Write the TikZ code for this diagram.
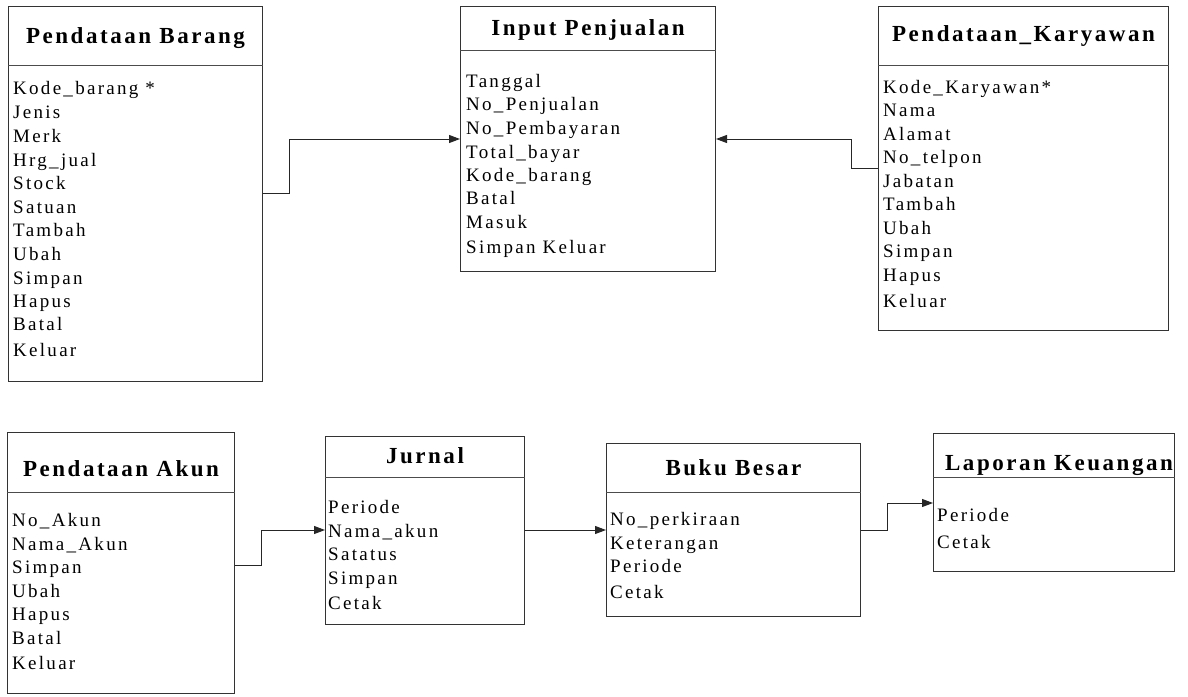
\documentclass[tikz,border=0pt]{standalone}
\usepackage{fontspec}
\setmainfont{Liberation Serif}
\newfontfamily\itemfont[LetterSpace=12]{Liberation Serif}
\newfontfamily\titlefont[LetterSpace=11]{Liberation Serif}
\usetikzlibrary{arrows.meta}
\begin{document}
\begin{tikzpicture}[x=1pt,y=-1pt,
  entity/.style={draw=black!80, line width=1pt, anchor=north west, inner sep=0pt},
  divider/.style={draw=black!70, line width=1pt},
  title/.style={inner sep=0pt, font=\titlefont\fontsize{23pt}{25pt}\selectfont\bfseries},
  item/.style={anchor=west, inner sep=0pt, text height=13.5pt, text depth=4pt, font=\itemfont\fontsize{19pt}{21pt}\selectfont},
  conn/.style={draw=black!85, line width=1pt, -{Triangle[length=11pt,width=8pt]}}]
\useasboundingbox (0,0) rectangle (1188,696);

% entity boxes
\node[entity, minimum width=254pt, minimum height=375pt] (barang) at (8,6) {};
\node[entity, minimum width=255pt, minimum height=265pt] (jual) at (460,6) {};
\node[entity, minimum width=290pt, minimum height=324pt] (karyawan) at (878,6) {};
\node[entity, minimum width=227pt, minimum height=261pt] (akun) at (7,432) {};
\node[entity, minimum width=199pt, minimum height=188pt] (jurnal) at (325,436) {};
\node[entity, minimum width=254pt, minimum height=173pt] (buku) at (606,443) {};
\node[entity, minimum width=241pt, minimum height=138pt] (laporan) at (933,433) {};

% header dividers
\draw[divider] (barang.west |- 0,65) -- (barang.east |- 0,65);
\draw[divider] (jual.west |- 0,50) -- (jual.east |- 0,50);
\draw[divider] (karyawan.west |- 0,65) -- (karyawan.east |- 0,65);
\draw[divider] (akun.west |- 0,492) -- (akun.east |- 0,492);
\draw[divider] (jurnal.west |- 0,477) -- (jurnal.east |- 0,477);
\draw[divider] (buku.west |- 0,492) -- (buku.east |- 0,492);
\draw[divider] (laporan.west |- 0,477) -- (laporan.east |- 0,477);

% titles
\node[title] (barang-t) at (barang.north |- 0,38) {Pendataan Barang};
\node[title] (jual-t) at (jual.north |- 0,30) {Input Penjualan};
\node[title] (karyawan-t) at (karyawan.north |- 0,36) {Pendataan\_Karyawan};
\node[title] (akun-t) at (akun.north |- 0,469) {Pendataan Akun};
\node[title] (jurnal-t) at (jurnal.north |- 0,456) {Jurnal};
\node[title] (buku-t) at (buku.north |- 0,468) {Buku Besar};
\node[title, xshift=5pt] (laporan-t) at (laporan.north |- 0,466) {Laporan Keuangan};

% attributes
\foreach \t/\y [count=\i] in {Kode\_barang */90, Jenis/114, Merk/138, Hrg\_jual/162,
    Stock/185, Satuan/209, Tambah/232, Ubah/256, Simpan/280, Hapus/303, Batal/326, Keluar/352}
  \node[item] (barang-\i) at ([xshift=5pt]barang.west |- 0,\y) {\t};
\foreach \t/\y [count=\i] in {Tanggal/83, No\_Penjualan/106, No\_Pembayaran/130,
    Total\_bayar/154, Kode\_barang/177, Batal/200, Masuk/224, Simpan Keluar/249}
  \node[item] (jual-\i) at ([xshift=6pt]jual.west |- 0,\y) {\t};
\foreach \t/\y [count=\i] in {Kode\_Karyawan*/89, Nama/112, Alamat/136, No\_telpon/159,
    Jabatan/183, Tambah/206, Ubah/230, Simpan/253, Hapus/277, Keluar/303}
  \node[item] (karyawan-\i) at ([xshift=5pt]karyawan.west |- 0,\y) {\t};
\foreach \t/\y [count=\i] in {No\_Akun/522, Nama\_Akun/546, Simpan/569, Ubah/593,
    Hapus/616, Batal/640, Keluar/665}
  \node[item] (akun-\i) at ([xshift=5pt]akun.west |- 0,\y) {\t};
\foreach \t/\y [count=\i] in {Periode/509, Nama\_akun/533, Satatus/556, Simpan/580, Cetak/605}
  \node[item] (jurnal-\i) at ([xshift=3pt]jurnal.west |- 0,\y) {\t};
\foreach \t/\y [count=\i] in {No\_perkiraan/521, Keterangan/545, Periode/568, Cetak/594}
  \node[item] (buku-\i) at ([xshift=4pt]buku.west |- 0,\y) {\t};
\foreach \t/\y [count=\i] in {Periode/517, Cetak/544}
  \node[item] (laporan-\i) at ([xshift=4pt]laporan.west |- 0,\y) {\t};

% connectors
\draw[conn] (barang.east |- 0,193) -- (289,193) -- (289,139) -- (jual.west |- 0,139);
\draw[conn] (karyawan.west |- 0,168) -- (851,168) -- (851,139) -- (jual.east |- 0,139);
\draw[conn] (akun.east |- 0,565) -- (261,565) -- (261,530) -- (jurnal.west |- 0,530);
\draw[conn] (jurnal.east |- 0,530) -- (buku.west |- 0,530);
\draw[conn] (buku.east |- 0,530) -- (887,530) -- (887,503) -- (laporan.west |- 0,503);
\end{tikzpicture}
\end{document}
